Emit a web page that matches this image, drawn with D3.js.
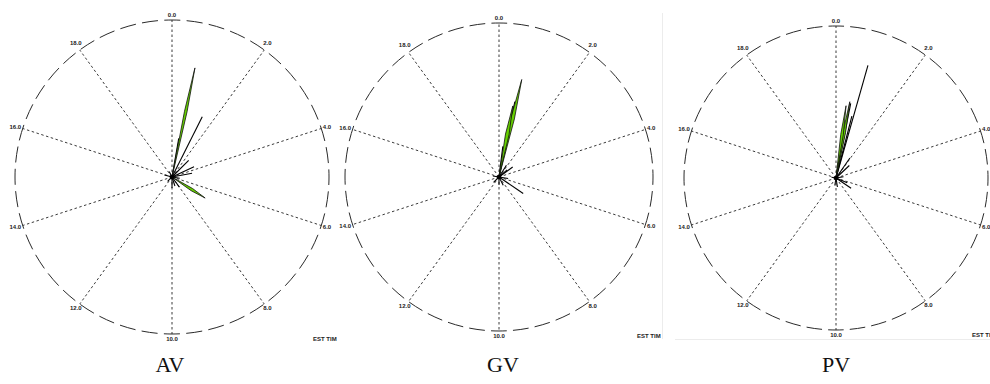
<!DOCTYPE html>
<html>
<head>
<meta charset="utf-8">
<script src="https://cdn.jsdelivr.net/npm/d3@7"></script>
<style>
  html, body { margin: 0; padding: 0; background: #fff; }
  svg { display: block; }
  .tick-label { font-family: "Liberation Sans", Arial, sans-serif; font-size: 6px; font-weight: bold; fill: #222; }
  .title { font-family: "Liberation Serif", "Times New Roman", serif; font-size: 22px; fill: #111; }
</style>
</head>
<body>
<div id="chart"></div>
<script>
// clock hours around the dial (20 h cycle, 10 spokes)
const hourTicks = [0, 2, 4, 6, 8, 10, 12, 14, 16, 18];
const tickLabels = ['0.0', '2.0', '4.0', '6.0', '8.0', '10.0', '12.0', '14.0', '16.0', '18.0'];
const panelNames = ['AV', 'GV', 'PV'];
const axisNote = 'EST TIM';

// vectors: [hour, magnitude as share of full radius]
const avGreen = [[0.66, 0.71], [6.8, 0.25]];
const avBlack = [[1.48, 0.43], [0.55, 0.25], [2.5, 0.15], [3.6, 0.155], [4.4, 0.13], [8.0, 0.08],
  [10.0, 0.07], [15.8, 0.05], [12.5, 0.04], [18.5, 0.04], [5.5, 0.05], [9.0, 0.06]];

const gvGreen = [[0.73, 0.65], [0.61, 0.47]];
const gvBlack = [[0.66, 0.5], [0.4, 0.2], [2.7, 0.07], [3.0, 0.11], [6.9, 0.19], [8.5, 0.06],
  [10.0, 0.05], [15.5, 0.04], [12.5, 0.05], [5.5, 0.06], [1.8, 0.09]];

const pvGreen = [[0.57, 0.51], [0.44, 0.48]];
const pvBlack = [[0.88, 0.77], [0.62, 0.5], [0.8, 0.42], [0.5, 0.3], [1.94, 0.16], [2.6, 0.12],
  [6.9, 0.12], [6.3, 0.08], [9.5, 0.06], [10.5, 0.05], [15.5, 0.03], [4.5, 0.05]];

const width = 990, height = 384;

const panels = [
  {name: panelNames[0], green: avGreen, black: avBlack, cx: 172, cy: 177, r: 157, tx: 170, kw: 1.3},
  {name: panelNames[1], green: gvGreen, black: gvBlack, cx: 499, cy: 177, r: 154, tx: 503, kw: 1.8},
  {name: panelNames[2], green: pvGreen, black: pvBlack, cx: 836, cy: 178, r: 152, tx: 836, kw: 1.3},
];

const svg = d3.select('#chart')
  .append('svg')
  .attr('width', width)
  .attr('height', height);

// faint frame around the last panel
svg.append('line').attr('x1', 662.5).attr('x2', 662.5).attr('y1', 13).attr('y2', 339)
  .attr('stroke', '#ececec');
svg.append('line').attr('x1', 675).attr('x2', width).attr('y1', 339.5).attr('y2', 339.5)
  .attr('stroke', '#ececec');

const angle = d3.scaleLinear().domain([0, 20]).range([0, 2 * Math.PI]);

// label placement relative to the spoke end
const labelPos = h => {
  const a = angle(h), s = Math.sin(a), c = Math.cos(a);
  if (Math.abs(s) < 0.1) return {anchor: 'middle', dx: 0, dy: c > 0 ? -5.5 : 5};
  const side = s > 0 ? 1 : -1;
  if (Math.abs(s) > 0.9) return {anchor: side > 0 ? 'start' : 'end', dx: side * 1.5, dy: -c * 5};
  return {anchor: side > 0 ? 'start' : 'end', dx: side > 0 ? -1 : 2, dy: c > 0 ? -7 : 4};
};

panels.forEach(p => {
  const radius = d3.scaleLinear().domain([0, 1]).range([0, p.r]);
  const pt = (h, m) => [radius(m) * Math.sin(angle(h)), -radius(m) * Math.cos(angle(h))];

  const g = svg.append('g').attr('transform', `translate(${p.cx},${p.cy})`);

  // spokes
  g.selectAll('line.spoke')
    .data(hourTicks)
    .enter()
    .append('line')
    .attr('class', 'spoke')
    .attr('x1', 0).attr('y1', 0)
    .attr('x2', d => pt(d, 1)[0])
    .attr('y2', d => pt(d, 1)[1])
    .attr('stroke', '#3a3a3a')
    .attr('stroke-width', 1)
    .attr('stroke-dasharray', '2.5,2.5');

  // dashed outer ring, dash centred at the top
  const circ = 2 * Math.PI * p.r;
  const period = circ / 44;
  const dash = period * 0.72;
  g.append('circle')
    .attr('r', p.r)
    .attr('fill', 'none')
    .attr('stroke', '#2a2a2a')
    .attr('stroke-width', 1)
    .attr('stroke-dasharray', `${dash},${period - dash}`)
    .attr('stroke-dashoffset', -(circ * 0.75 - dash / 2));

  // hour labels
  g.selectAll('text.tick-label')
    .data(hourTicks)
    .enter()
    .append('text')
    .attr('class', 'tick-label')
    .attr('text-anchor', d => labelPos(d).anchor)
    .attr('dominant-baseline', 'central')
    .attr('x', d => pt(d, 1)[0] + labelPos(d).dx)
    .attr('y', d => pt(d, 1)[1] + labelPos(d).dy)
    .text((d, i) => tickLabels[i]);

  // thin black vectors
  g.selectAll('line.vec')
    .data(p.black)
    .enter()
    .append('line')
    .attr('class', 'vec')
    .attr('x1', 0).attr('y1', 0)
    .attr('x2', d => pt(d[0], d[1])[0])
    .attr('y2', d => pt(d[0], d[1])[1])
    .attr('stroke', '#000')
    .attr('stroke-width', 1.1);

  // green filled vectors drawn as slim kites
  const kite = d => {
    const a = angle(d[0]);
    const tip = pt(d[0], d[1]);
    const mid = pt(d[0], d[1] * 0.6);
    const px = Math.cos(a) * p.kw, py = Math.sin(a) * p.kw;
    return d3.line()([[0, 0], [mid[0] + px, mid[1] + py], tip, [mid[0] - px, mid[1] - py]]) + 'Z';
  };
  g.selectAll('path.kite')
    .data(p.green)
    .enter()
    .append('path')
    .attr('class', 'kite')
    .attr('d', kite)
    .attr('fill', '#66d000')
    .attr('stroke', '#111')
    .attr('stroke-width', 0.8)
    .attr('stroke-linejoin', 'round');

  // small hub at the origin
  g.append('circle').attr('r', 2.2).attr('fill', '#000');

  g.append('text')
    .attr('class', 'tick-label')
    .attr('x', p.r - 16)
    .attr('y', p.r + 5)
    .attr('dominant-baseline', 'central')
    .text(axisNote);

  svg.append('text')
    .attr('class', 'title')
    .attr('x', p.tx)
    .attr('y', 372)
    .attr('text-anchor', 'middle')
    .text(p.name);
});
</script>
</body>
</html>
